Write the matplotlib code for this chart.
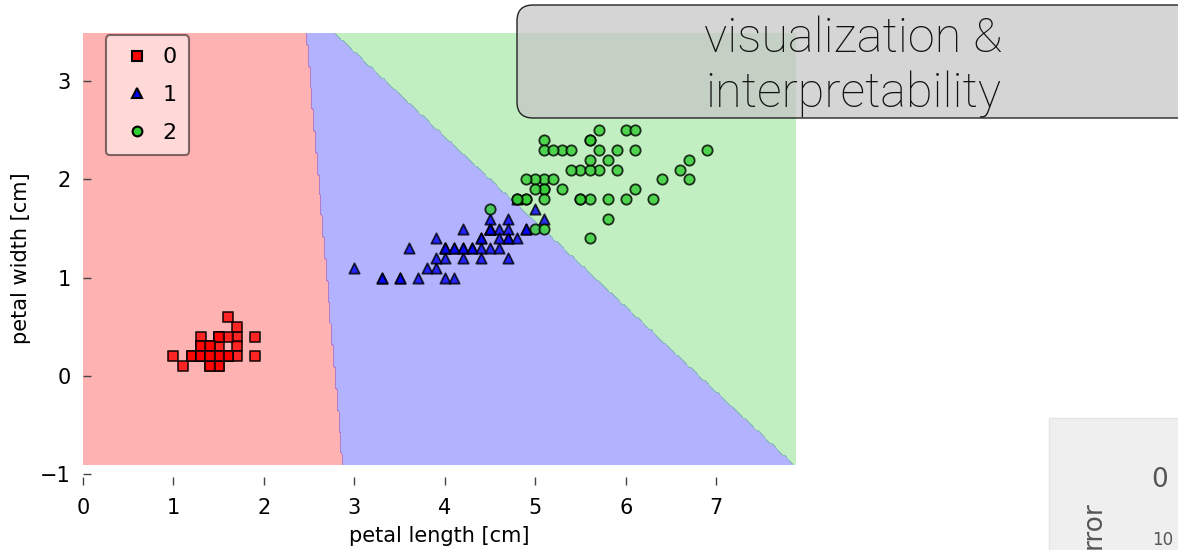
import matplotlib
matplotlib.use("Agg")
import matplotlib.pyplot as plt
import numpy as np
from matplotlib.colors import ListedColormap
from matplotlib.lines import Line2D
from matplotlib.patches import FancyBboxPatch, Rectangle

# Iris petal measurements (cm), one list per class
setosa_len = [1.4, 1.4, 1.3, 1.5, 1.4, 1.7, 1.4, 1.5, 1.4, 1.5, 1.5, 1.6, 1.4, 1.1, 1.2, 1.5, 1.3,
              1.4, 1.7, 1.5, 1.7, 1.5, 1.0, 1.7, 1.9, 1.6, 1.6, 1.5, 1.4, 1.6, 1.6, 1.5, 1.5, 1.4,
              1.5, 1.2, 1.3, 1.4, 1.3, 1.5, 1.3, 1.3, 1.3, 1.6, 1.9, 1.4, 1.6, 1.4, 1.5, 1.4]
setosa_wid = [0.2, 0.2, 0.2, 0.2, 0.2, 0.4, 0.3, 0.2, 0.2, 0.1, 0.2, 0.2, 0.1, 0.1, 0.2, 0.4, 0.4,
              0.3, 0.3, 0.3, 0.2, 0.4, 0.2, 0.5, 0.2, 0.2, 0.4, 0.2, 0.2, 0.2, 0.2, 0.4, 0.1, 0.2,
              0.2, 0.2, 0.2, 0.1, 0.2, 0.2, 0.3, 0.3, 0.2, 0.6, 0.4, 0.3, 0.2, 0.2, 0.2, 0.2]
versicolor_len = [4.7, 4.5, 4.9, 4.0, 4.6, 4.5, 4.7, 3.3, 4.6, 3.9, 3.5, 4.2, 4.0, 4.7, 3.6, 4.4,
                  4.5, 4.1, 4.5, 3.9, 4.8, 4.0, 4.9, 4.7, 4.3, 4.4, 4.8, 5.0, 4.5, 3.5, 3.8, 3.7,
                  3.9, 5.1, 4.5, 4.5, 4.7, 4.4, 4.1, 4.0, 4.4, 4.6, 4.0, 3.3, 4.2, 4.2, 4.2, 4.3,
                  3.0, 4.1]
versicolor_wid = [1.4, 1.5, 1.5, 1.3, 1.5, 1.3, 1.6, 1.0, 1.3, 1.4, 1.0, 1.5, 1.0, 1.4, 1.3, 1.4,
                  1.5, 1.0, 1.5, 1.1, 1.8, 1.3, 1.5, 1.2, 1.3, 1.4, 1.4, 1.7, 1.5, 1.0, 1.1, 1.0,
                  1.2, 1.6, 1.5, 1.6, 1.5, 1.3, 1.3, 1.3, 1.2, 1.4, 1.2, 1.0, 1.3, 1.2, 1.3, 1.3,
                  1.1, 1.3]
virginica_len = [6.0, 5.1, 5.9, 5.6, 5.8, 6.6, 4.5, 6.3, 5.8, 6.1, 5.1, 5.3, 5.5, 5.0, 5.1, 5.3,
                 5.5, 6.7, 6.9, 5.0, 5.7, 4.9, 6.7, 4.9, 5.7, 6.0, 4.8, 4.9, 5.6, 5.8, 6.1, 6.4,
                 5.6, 5.1, 5.6, 6.1, 5.6, 5.5, 4.8, 5.4, 5.6, 5.1, 5.1, 5.9, 5.7, 5.2, 5.0, 5.2,
                 5.4, 5.1]
virginica_wid = [2.5, 1.9, 2.1, 1.8, 2.2, 2.1, 1.7, 1.8, 1.8, 2.5, 2.0, 1.9, 2.1, 2.0, 2.4, 2.3,
                 1.8, 2.2, 2.3, 1.5, 2.3, 2.0, 2.0, 1.8, 2.1, 1.8, 1.8, 1.8, 2.1, 1.6, 1.9, 2.0,
                 2.2, 1.5, 1.4, 2.3, 2.4, 1.8, 1.8, 2.1, 2.4, 2.3, 1.9, 2.3, 2.5, 2.3, 1.9, 2.0,
                 2.3, 1.8]

class_labels = ["0", "1", "2"]
class_markers = ["s", "^", "o"]
class_colors = ["red", "blue", "limegreen"]

# linear decision function (one row per class): score = w . [len, wid] + b
clf_weights = [[-1.0, -0.0913], [0.0, 0.0], [0.865, 1.0]]
clf_bias = [2.788, 0.0, -5.893]

X = np.column_stack([setosa_len + versicolor_len + virginica_len,
                     setosa_wid + versicolor_wid + virginica_wid])
y = np.repeat([0, 1, 2], 50)

fig = plt.figure(figsize=(11.78, 5.5), dpi=100)
ax = fig.add_axes([0.0705, 0.118, 0.605, 0.824])

# decision surface on a grid
res = 0.02
x1_min, x1_max = X[:, 0].min() - 1, X[:, 0].max() + 1
x2_min, x2_max = X[:, 1].min() - 1, X[:, 1].max() + 1
xx1, xx2 = np.meshgrid(np.arange(x1_min, x1_max, res), np.arange(x2_min, x2_max, res))
grid = np.column_stack([xx1.ravel(), xx2.ravel()])
scores = grid @ np.array(clf_weights).T + np.array(clf_bias)
Z = scores.argmax(axis=1).reshape(xx1.shape)
cmap = ListedColormap(class_colors)
ax.contourf(xx1, xx2, Z, levels=[-0.5, 0.5, 1.5, 2.5], cmap=cmap, alpha=0.3, antialiased=False)

for idx in range(3):
    ax.scatter(X[y == idx, 0], X[y == idx, 1], s=55, c=class_colors[idx],
               marker=class_markers[idx], alpha=0.8, edgecolors="black", linewidths=1.3,
               zorder=3)

ax.set_xlim(xx1.min(), xx1.max())
ax.set_ylim(-1.11, 3.5)
ax.set_xticks(range(0, 8))
ax.set_yticks([-1, 0, 1, 2, 3])
for sp in ax.spines.values():
    sp.set_visible(False)
ax.tick_params(direction="in", length=5.5, width=1, color="#444444", labelsize=15, pad=9,
               top=False, right=False)
ax.set_xlabel("petal length [cm]", fontsize=15, labelpad=6)
ax.set_ylabel("petal width [cm]", fontsize=15, labelpad=6)

handles = [Line2D([], [], linestyle="none", marker=class_markers[i], color=class_colors[i],
                  markeredgecolor="black", markersize=7, markeredgewidth=1.5)
           for i in range(3)]
leg = ax.legend(handles, class_labels, loc="upper left", bbox_to_anchor=(0.032, 0.993),
                borderaxespad=0, fontsize=16, handlelength=1.7, handletextpad=0.3,
                borderpad=0.55, labelspacing=0.8, framealpha=0.5, fancybox=True)
leg.get_frame().set_edgecolor("black")
leg.get_frame().set_linewidth(1.5)

# slide overlay in pixel coordinates
ov = fig.add_axes([0, 0, 1, 1], zorder=5)
ov.set_xlim(0, 1178)
ov.set_ylim(550, 0)
ov.axis("off")
ov.patch.set_alpha(0)

ov.add_patch(FancyBboxPatch((517, 5), 700, 113, boxstyle="round,pad=0,rounding_size=16",
                            facecolor="#c4c4c4", alpha=0.7, edgecolor="none"))
ov.add_patch(FancyBboxPatch((517, 5), 700, 113, boxstyle="round,pad=0,rounding_size=16",
                            facecolor="none", edgecolor="#222222", linewidth=1.0))
ov.text(853, 52, "visualization &", ha="center", va="baseline", fontsize=35,
        family="Roboto", fontweight="light", color="#111111")
ov.text(853, 107, "interpretability", ha="center", va="baseline", fontsize=35,
        family="Roboto", fontweight="light", color="#111111")

# cropped corner of another figure
ov.add_patch(Rectangle((1049, 418), 140, 140, facecolor="#efefef", edgecolor="#e4e4e4"))
ov.text(1094, 549, "rror", rotation=90, ha="center", va="bottom", fontsize=19,
        color="#555555")
ov.text(1160, 480, "0", ha="center", va="center", fontsize=19, color="#555555")
ov.text(1163, 549, "10", ha="center", va="bottom", fontsize=12, color="#555555")

fig.savefig("out.png", dpi=100)
